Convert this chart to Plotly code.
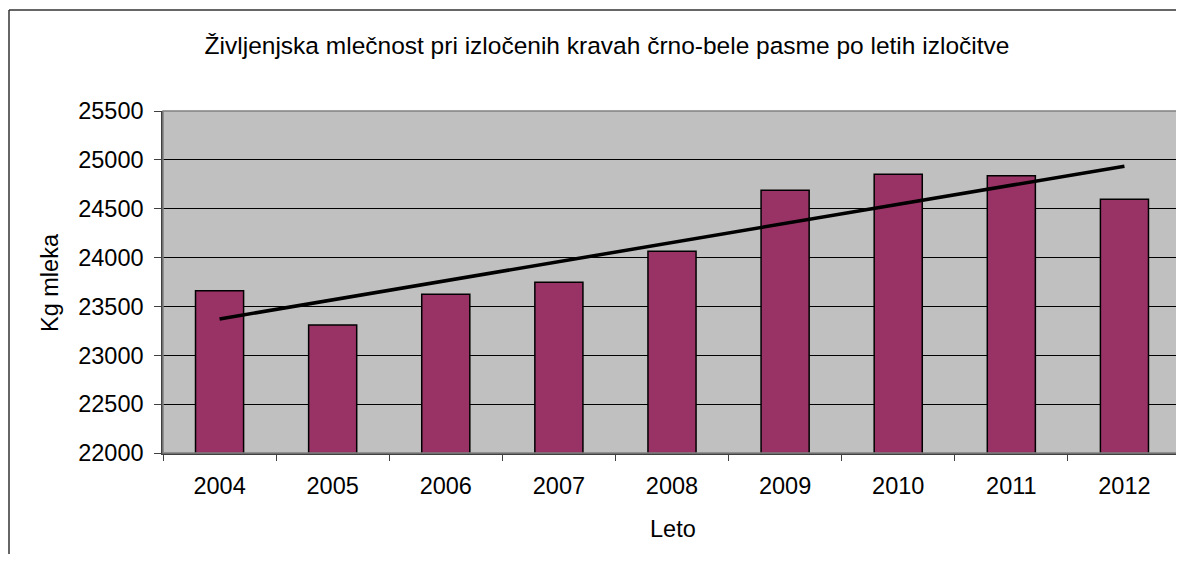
import numpy as np
import plotly.graph_objects as go

years = ["2004", "2005", "2006", "2007", "2008", "2009", "2010", "2011", "2012"]
milk_kg = [23660, 23310, 23625, 23748, 24064, 24690, 24852, 24838, 24597]

title_text = "Življenjska mlečnost pri izločenih kravah črno-bele pasme po letih izločitve"
y_title = "Kg mleka"
x_title = "Leto"
y_ticks = [22000, 22500, 23000, 23500, 24000, 24500, 25000, 25500]
y_tick_labels = [str(v) for v in y_ticks]

# linear trendline computed from the data
xi = np.arange(len(milk_kg))
slope, intercept = np.polyfit(xi, milk_kg, 1)
trend = (slope * xi + intercept).tolist()

# page has an 8px body margin; size the figure so the page does not scroll
OFF = 8
W, H = 1184 - OFF, 562 - 2 * OFF
L, R, T = 163 - OFF, 3, 111 - OFF
B = H - (453 - OFF)
pw = W - L - R
ph = H - T - B

FONT = "Liberation Sans, Arial, sans-serif"

fig = go.Figure()
fig.add_trace(go.Bar(
    x=years, y=milk_kg,
    marker=dict(color="#993366", line=dict(color="black", width=1.5)),
    showlegend=False,
))
fig.add_trace(go.Scatter(
    x=years, y=trend, mode="lines",
    line=dict(color="black", width=3.5),
    showlegend=False,
))

def px_x(p):
    # page pixel -> paper x
    return (p - OFF - L) / pw

def px_y(p):
    # page pixel -> paper y
    return (H - B - (p - OFF)) / ph

frame = dict(color="#333333", width=1.5)

fig.update_layout(
    width=W, height=H,
    margin=dict(l=L, r=R, t=T, b=B),
    paper_bgcolor="white",
    plot_bgcolor="#C0C0C0",
    bargap=0.575,
    font=dict(family=FONT, size=23, color="black"),
    title=dict(text=title_text, x=(607 - OFF) / W, xanchor="center",
               y=1 - (45 - OFF) / H, yanchor="middle", xref="container", yref="container",
               font=dict(size=24.5)),
    xaxis=dict(
        type="category",
        showgrid=False,
        showline=True, linecolor="#404040", linewidth=1.5,
        ticks="outside", ticklen=6, tickcolor="#404040", tickson="boundaries",
        tickfont=dict(size=23.5),
        ticklabelstandoff=11,
    ),
    yaxis=dict(
        range=[22000, 25500],
        tickvals=y_ticks, ticktext=y_tick_labels,
        showgrid=True, gridcolor="black", gridwidth=1,
        zeroline=False,
        showline=True, linecolor="#404040", linewidth=1.5,
        ticks="outside", ticklen=7, tickcolor="#404040",
        tickfont=dict(size=23.5),
        ticklabelstandoff=6,
    ),
    annotations=[
        dict(text=y_title, textangle=-90, xref="paper", yref="paper",
             x=px_x(50), y=px_y(283), xanchor="center", yanchor="middle",
             showarrow=False, font=dict(size=23.5)),
        dict(text=x_title, xref="paper", yref="paper",
             x=px_x(673), y=px_y(529), xanchor="center", yanchor="middle",
             showarrow=False, font=dict(size=23.5)),
    ],
    shapes=[
        dict(type="rect", xref="paper", yref="paper", x0=0, x1=1, y0=0, y1=1,
             line=dict(color="#808080", width=1.5), fillcolor="rgba(0,0,0,0)", layer="above"),
        # outer chart frame: only its left and top edges fall inside the picture
        dict(type="line", xref="paper", yref="paper",
             x0=px_x(9), x1=px_x(9), y0=px_y(600), y1=px_y(10), line=frame),
        dict(type="line", xref="paper", yref="paper",
             x0=px_x(9), x1=px_x(1220), y0=px_y(10), y1=px_y(10), line=frame),
    ],
)

fig.write_html("out.html")
